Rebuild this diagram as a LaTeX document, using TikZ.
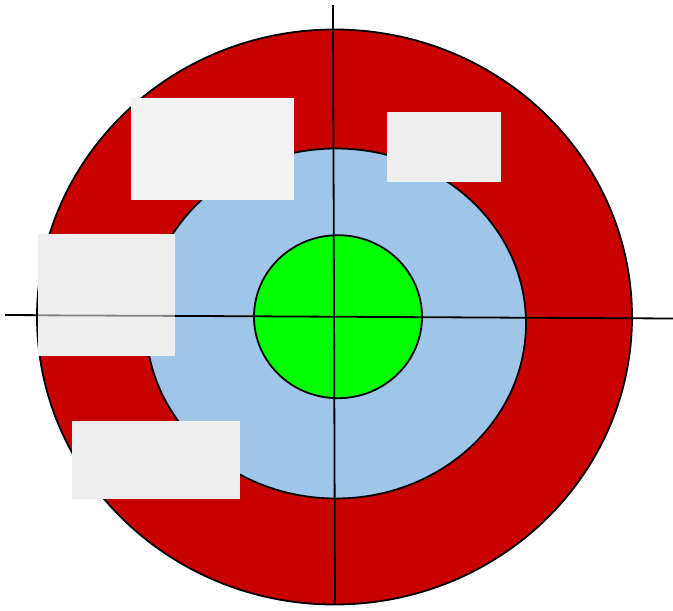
\documentclass[tikz,border=0pt]{standalone}
\usetikzlibrary{shapes.geometric}
\definecolor{ringred}{HTML}{C80000}
\definecolor{ringblue}{HTML}{9FC5E8}
\definecolor{ringgreen}{HTML}{00FF00}
\definecolor{boxA}{HTML}{F2F2F2}
\definecolor{boxB}{HTML}{EEEEEE}
\tikzset{
  ring/.style={ellipse, draw=black, line width=1.8pt, inner sep=0pt},
  blank/.style={rectangle, draw=none, inner sep=0pt, anchor=north west},
  axisline/.style={draw=black, line width=1.8pt},
}
\begin{document}
\begin{tikzpicture}[x=1pt,y=-1pt]
\useasboundingbox (0,0) rectangle (673,611);
\node[ring, fill=ringred, minimum width=595pt, minimum height=575pt] (outer) at (334.5,317) {};
\node[ring, fill=ringblue, minimum width=380pt, minimum height=350pt] (middle) at (336,323.5) {};
\node[ring, fill=ringgreen, minimum width=168pt, minimum height=163pt] (inner) at (338,316.7) {};
\coordinate (vtop) at (333,5);
\coordinate (vbot) at (335,604);
\coordinate (hleft) at (5,315);
\coordinate (hright) at (673,318.5);
\draw[axisline] (vtop) -- (vbot);
\draw[axisline] (hleft) -- (hright);
\node[blank, fill=boxA, minimum width=163pt, minimum height=102pt] (b1) at (131,98) {};
\node[blank, fill=boxB, minimum width=114pt, minimum height=70pt] (b2) at (387,112) {};
\node[blank, fill=boxB, minimum width=137pt, minimum height=122pt] (b3) at (38,234) {};
\node[blank, fill=boxB, minimum width=168pt, minimum height=78pt] (b4) at (72,421) {};
\coordinate (gl) at (b3.west |- 0,315.3);
\coordinate (gr) at (b3.east |- 0,315.9);
\draw[black, line width=1.8pt, draw opacity=0.45] (gl) -- (gr);
\end{tikzpicture}
\end{document}
